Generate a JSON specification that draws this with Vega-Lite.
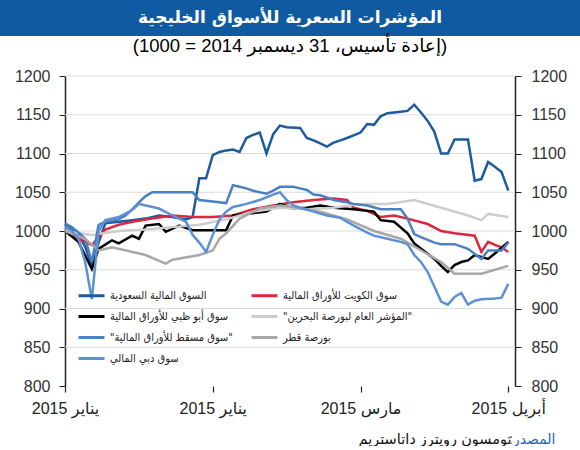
{
  "$schema": "https://vega.github.io/schema/vega-lite/v6.json",
  "padding": 0,
  "spacing": 0,
  "background": "white",
  "config": {"view": {"stroke": null}, "font": "Liberation Sans, DejaVu Sans"},
  "datasets": {
    "ts": [
      {"s":"SA","d":0,"v":1009},{"s":"SA","d":1,"v":1003},{"s":"SA","d":2,"v":995},{"s":"SA","d":3,"v":980},{"s":"SA","d":4,"v":955},{"s":"SA","d":5,"v":985},{"s":"SA","d":6,"v":1010},{"s":"SA","d":8,"v":1012},{"s":"SA","d":10,"v":1014},{"s":"SA","d":12,"v":1016},{"s":"SA","d":14,"v":1020},{"s":"SA","d":16,"v":1018},{"s":"SA","d":18,"v":1015},{"s":"SA","d":19,"v":1018},{"s":"SA","d":20,"v":1068},{"s":"SA","d":21,"v":1068},{"s":"SA","d":22,"v":1098},{"s":"SA","d":23,"v":1102},{"s":"SA","d":24,"v":1104},{"s":"SA","d":25,"v":1105},{"s":"SA","d":26,"v":1102},{"s":"SA","d":27,"v":1120},{"s":"SA","d":28,"v":1124},{"s":"SA","d":29,"v":1127},{"s":"SA","d":30,"v":1100},{"s":"SA","d":31,"v":1125},{"s":"SA","d":32,"v":1136},{"s":"SA","d":33,"v":1134},{"s":"SA","d":35,"v":1133},{"s":"SA","d":36,"v":1120},{"s":"SA","d":37,"v":1117},{"s":"SA","d":38,"v":1113},{"s":"SA","d":39,"v":1109},{"s":"SA","d":40,"v":1114},{"s":"SA","d":41,"v":1117},{"s":"SA","d":42,"v":1120},{"s":"SA","d":44,"v":1127},{"s":"SA","d":45,"v":1138},{"s":"SA","d":46,"v":1137},{"s":"SA","d":47,"v":1148},{"s":"SA","d":48,"v":1152},{"s":"SA","d":50,"v":1154},{"s":"SA","d":51,"v":1155},{"s":"SA","d":52,"v":1163},{"s":"SA","d":53,"v":1153},{"s":"SA","d":54,"v":1142},{"s":"SA","d":55,"v":1128},{"s":"SA","d":56,"v":1100},{"s":"SA","d":57,"v":1100},{"s":"SA","d":58,"v":1118},{"s":"SA","d":60,"v":1118},{"s":"SA","d":61,"v":1065},{"s":"SA","d":62,"v":1067},{"s":"SA","d":63,"v":1089},{"s":"SA","d":64,"v":1083},{"s":"SA","d":65,"v":1076},{"s":"SA","d":66,"v":1052},
      {"s":"KW","d":0,"v":1000},{"s":"KW","d":2,"v":990},{"s":"KW","d":4,"v":982},{"s":"KW","d":6,"v":1002},{"s":"KW","d":8,"v":1008},{"s":"KW","d":10,"v":1012},{"s":"KW","d":13,"v":1016},{"s":"KW","d":16,"v":1020},{"s":"KW","d":19,"v":1018},{"s":"KW","d":22,"v":1018},{"s":"KW","d":25,"v":1020},{"s":"KW","d":28,"v":1028},{"s":"KW","d":31,"v":1033},{"s":"KW","d":34,"v":1037},{"s":"KW","d":37,"v":1040},{"s":"KW","d":40,"v":1042},{"s":"KW","d":42,"v":1040},{"s":"KW","d":43,"v":1030},{"s":"KW","d":45,"v":1026},{"s":"KW","d":47,"v":1018},{"s":"KW","d":49,"v":1020},{"s":"KW","d":51,"v":1016},{"s":"KW","d":54,"v":1009},{"s":"KW","d":56,"v":1000},{"s":"KW","d":58,"v":997},{"s":"KW","d":61,"v":994},{"s":"KW","d":62,"v":973},{"s":"KW","d":63,"v":986},{"s":"KW","d":64,"v":982},{"s":"KW","d":65,"v":979},{"s":"KW","d":66,"v":973},
      {"s":"AD","d":0,"v":1000},{"s":"AD","d":2,"v":986},{"s":"AD","d":4,"v":951},{"s":"AD","d":5,"v":977},{"s":"AD","d":7,"v":988},{"s":"AD","d":8,"v":984},{"s":"AD","d":10,"v":994},{"s":"AD","d":11,"v":990},{"s":"AD","d":12,"v":1007},{"s":"AD","d":14,"v":1009},{"s":"AD","d":15,"v":999},{"s":"AD","d":17,"v":1007},{"s":"AD","d":19,"v":1001},{"s":"AD","d":24,"v":1001},{"s":"AD","d":25,"v":1020},{"s":"AD","d":27,"v":1022},{"s":"AD","d":30,"v":1025},{"s":"AD","d":32,"v":1035},{"s":"AD","d":34,"v":1029},{"s":"AD","d":36,"v":1030},{"s":"AD","d":38,"v":1033},{"s":"AD","d":40,"v":1030},{"s":"AD","d":43,"v":1028},{"s":"AD","d":46,"v":1025},{"s":"AD","d":47,"v":1014},{"s":"AD","d":49,"v":1012},{"s":"AD","d":51,"v":997},{"s":"AD","d":52,"v":984},{"s":"AD","d":55,"v":964},{"s":"AD","d":56,"v":955},{"s":"AD","d":57,"v":947},{"s":"AD","d":58,"v":956},{"s":"AD","d":59,"v":960},{"s":"AD","d":60,"v":962},{"s":"AD","d":61,"v":969},{"s":"AD","d":63,"v":964},{"s":"AD","d":64,"v":971},{"s":"AD","d":66,"v":986},
      {"s":"BH","d":0,"v":1000},{"s":"BH","d":4,"v":995},{"s":"BH","d":8,"v":1000},{"s":"BH","d":12,"v":1002},{"s":"BH","d":16,"v":1005},{"s":"BH","d":20,"v":1008},{"s":"BH","d":24,"v":1015},{"s":"BH","d":28,"v":1025},{"s":"BH","d":32,"v":1030},{"s":"BH","d":36,"v":1028},{"s":"BH","d":40,"v":1030},{"s":"BH","d":44,"v":1035},{"s":"BH","d":48,"v":1035},{"s":"BH","d":52,"v":1040},{"s":"BH","d":56,"v":1030},{"s":"BH","d":60,"v":1020},{"s":"BH","d":62,"v":1014},{"s":"BH","d":63,"v":1022},{"s":"BH","d":66,"v":1018},
      {"s":"MS","d":0,"v":1010},{"s":"MS","d":1,"v":1005},{"s":"MS","d":2,"v":998},{"s":"MS","d":3,"v":990},{"s":"MS","d":4,"v":960},{"s":"MS","d":5,"v":1008},{"s":"MS","d":6,"v":1012},{"s":"MS","d":8,"v":1015},{"s":"MS","d":9,"v":1020},{"s":"MS","d":10,"v":1028},{"s":"MS","d":11,"v":1037},{"s":"MS","d":12,"v":1045},{"s":"MS","d":13,"v":1050},{"s":"MS","d":15,"v":1050},{"s":"MS","d":17,"v":1050},{"s":"MS","d":19,"v":1050},{"s":"MS","d":20,"v":1040},{"s":"MS","d":22,"v":1038},{"s":"MS","d":24,"v":1036},{"s":"MS","d":25,"v":1059},{"s":"MS","d":26,"v":1057},{"s":"MS","d":27,"v":1055},{"s":"MS","d":28,"v":1052},{"s":"MS","d":30,"v":1048},{"s":"MS","d":31,"v":1052},{"s":"MS","d":32,"v":1057},{"s":"MS","d":34,"v":1057},{"s":"MS","d":35,"v":1055},{"s":"MS","d":36,"v":1053},{"s":"MS","d":37,"v":1047},{"s":"MS","d":38,"v":1046},{"s":"MS","d":40,"v":1040},{"s":"MS","d":42,"v":1037},{"s":"MS","d":43,"v":1035},{"s":"MS","d":45,"v":1033},{"s":"MS","d":47,"v":1028},{"s":"MS","d":50,"v":1028},{"s":"MS","d":51,"v":1016},{"s":"MS","d":52,"v":996},{"s":"MS","d":53,"v":992},{"s":"MS","d":55,"v":985},{"s":"MS","d":56,"v":983},{"s":"MS","d":58,"v":983},{"s":"MS","d":60,"v":977},{"s":"MS","d":62,"v":964},{"s":"MS","d":63,"v":975},{"s":"MS","d":65,"v":975},{"s":"MS","d":66,"v":985},
      {"s":"QA","d":0,"v":1000},{"s":"QA","d":3,"v":990},{"s":"QA","d":5,"v":975},{"s":"QA","d":7,"v":979},{"s":"QA","d":12,"v":969},{"s":"QA","d":15,"v":958},{"s":"QA","d":16,"v":963},{"s":"QA","d":20,"v":969},{"s":"QA","d":22,"v":975},{"s":"QA","d":23,"v":990},{"s":"QA","d":24,"v":997},{"s":"QA","d":26,"v":1016},{"s":"QA","d":29,"v":1029},{"s":"QA","d":32,"v":1033},{"s":"QA","d":34,"v":1031},{"s":"QA","d":38,"v":1025},{"s":"QA","d":42,"v":1015},{"s":"QA","d":46,"v":1000},{"s":"QA","d":50,"v":990},{"s":"QA","d":54,"v":970},{"s":"QA","d":56,"v":960},{"s":"QA","d":58,"v":945},{"s":"QA","d":60,"v":945},{"s":"QA","d":62,"v":945},{"s":"QA","d":64,"v":950},{"s":"QA","d":66,"v":955},
      {"s":"DB","d":0,"v":1005},{"s":"DB","d":1,"v":1000},{"s":"DB","d":2,"v":990},{"s":"DB","d":3,"v":960},{"s":"DB","d":4,"v":912},{"s":"DB","d":5,"v":1000},{"s":"DB","d":6,"v":1014},{"s":"DB","d":8,"v":1018},{"s":"DB","d":10,"v":1027},{"s":"DB","d":11,"v":1035},{"s":"DB","d":12,"v":1033},{"s":"DB","d":14,"v":1029},{"s":"DB","d":16,"v":1020},{"s":"DB","d":18,"v":1012},{"s":"DB","d":19,"v":995},{"s":"DB","d":20,"v":985},{"s":"DB","d":21,"v":973},{"s":"DB","d":22,"v":995},{"s":"DB","d":23,"v":1015},{"s":"DB","d":24,"v":1025},{"s":"DB","d":25,"v":1031},{"s":"DB","d":26,"v":1033},{"s":"DB","d":27,"v":1035},{"s":"DB","d":29,"v":1040},{"s":"DB","d":31,"v":1047},{"s":"DB","d":32,"v":1050},{"s":"DB","d":33,"v":1040},{"s":"DB","d":34,"v":1033},{"s":"DB","d":35,"v":1030},{"s":"DB","d":37,"v":1025},{"s":"DB","d":39,"v":1020},{"s":"DB","d":41,"v":1017},{"s":"DB","d":43,"v":1007},{"s":"DB","d":45,"v":998},{"s":"DB","d":46,"v":994},{"s":"DB","d":48,"v":990},{"s":"DB","d":50,"v":986},{"s":"DB","d":51,"v":983},{"s":"DB","d":52,"v":969},{"s":"DB","d":53,"v":960},{"s":"DB","d":54,"v":947},{"s":"DB","d":55,"v":928},{"s":"DB","d":56,"v":909},{"s":"DB","d":57,"v":905},{"s":"DB","d":58,"v":915},{"s":"DB","d":59,"v":920},{"s":"DB","d":60,"v":905},{"s":"DB","d":61,"v":910},{"s":"DB","d":62,"v":912},{"s":"DB","d":64,"v":913},{"s":"DB","d":65,"v":914},{"s":"DB","d":66,"v":932}
    ],
    "grid": [{"g":850},{"g":900},{"g":950},{"g":1000},{"g":1050},{"g":1100},{"g":1150},{"g":1200}]
  },
  "vconcat": [
    {
      "width": 580,
      "height": 36,
      "view": {"fill": "#0f5aa0", "stroke": null},
      "data": {"values": [{"t": "المؤشرات السعرية للأسواق الخليجية"}]},
      "mark": {"type": "text", "color": "white", "fontSize": 17, "fontWeight": "bold", "font": "DejaVu Sans", "baseline": "middle"},
      "encoding": {"text": {"field": "t"}}
    },
    {
      "width": 580,
      "height": 310,
      "title": {"text": "(إعادة تأسيس، 31 ديسمبر 2014 = 1000)", "fontSize": 18.5, "fontWeight": "normal", "offset": 13, "anchor": "middle", "color": "black"},
      "resolve": {"scale": {"y": "independent"}},
      "layer": [
        {
          "data": {"name": "grid"},
          "mark": {"type": "rule", "color": "#dcdcdc", "strokeWidth": 1},
          "encoding": {
            "y": {"field": "g", "type": "quantitative", "scale": {"domain": [800, 1200], "zero": false, "nice": false}, "axis": null},
            "x": {"datum": 0, "type": "quantitative"},
            "x2": {"datum": 67}
          }
        },
        {
          "data": {"name": "ts"},
          "mark": {"type": "line", "strokeWidth": 2.5},
          "encoding": {
            "x": {"field": "d", "type": "quantitative",
              "scale": {"domain": [-9.678, 76.678], "nice": false, "zero": false},
              "axis": {"orient": "bottom", "values": [0, 22, 44, 66], "domain": false, "grid": false, "tickSize": 6, "tickColor": "#222", "tickWidth": 1.2,
                "labelExpr": "datum.value == 0 ? '2015 يناير' : datum.value == 22 ? '2015 يناير' : datum.value == 44 ? '2015 مارس' : '2015 أبريل'",
                "labelFontSize": 16, "labelColor": "#222", "labelPadding": 8,
                "title": "تومسون رويترز داتاستريم", "titleFontSize": 14.5, "titleFontWeight": "normal", "titleColor": "#111", "titleAnchor": "end", "titleAlign": "right", "titleBaseline": "alphabetic", "titleX": 511, "titleY": 57}},
            "y": {"field": "v", "type": "quantitative", "scale": {"domain": [800, 1200], "zero": false, "nice": false},
              "axis": {"orient": "left", "offset": -65, "values": [800, 850, 900, 950, 1000, 1050, 1100, 1150, 1200], "format": "d", "grid": false, "domainColor": "#222", "domainWidth": 1.5, "tickColor": "#222", "tickSize": 6, "labelFontSize": 16, "labelColor": "#333", "labelPadding": 9, "title": null}},
            "color": {"field": "s", "type": "nominal",
              "scale": {"domain": ["SA", "KW", "AD", "BH", "MS", "QA", "DB"], "range": ["#1d5b9e", "#e0263e", "#000000", "#cdcdcd", "#4a80c4", "#a8a8a8", "#5d91d6"]},
              "legend": {"orient": "none", "legendX": 77, "legendY": 281, "direction": "horizontal", "columns": 2, "symbolType": "stroke", "symbolSize": 676, "symbolStrokeWidth": 3, "labelFont": "DejaVu Sans Condensed, DejaVu Sans", "labelFontSize": 11, "labelColor": "#222", "labelOffset": 4, "columnPadding": 12, "rowPadding": -4, "padding": 0, "title": null,
                "labelExpr": "({'SA': 'السوق المالية السعودية', 'KW': 'سوق الكويت للأوراق المالية', 'AD': 'سوق أبو ظبي للأوراق المالية', 'BH': '\"المؤشر العام لبورصة البحرين\"', 'MS': '\"سوق مسقط للأوراق المالية\"', 'QA': 'بورصة قطر', 'DB': 'سوق دبي المالي'})[datum.label]"}}
          }
        },
        {
          "mark": {"type": "rule", "color": "#222", "strokeWidth": 1.5},
          "encoding": {
            "x": {"datum": 0, "type": "quantitative"},
            "x2": {"datum": 67},
            "y": {"datum": 800, "type": "quantitative", "scale": {"domain": [800, 1200], "zero": false, "nice": false},
              "axis": {"orient": "right", "offset": -65, "values": [800, 850, 900, 950, 1000, 1050, 1100, 1150, 1200], "format": "d", "grid": false, "domainColor": "#222", "domainWidth": 1.5, "tickColor": "#222", "tickSize": 6, "labelFontSize": 16, "labelColor": "#333", "labelPadding": 10,
                "title": ":المصدر", "titleAngle": 0, "titleColor": "#1f5fb0", "titleFontSize": 14, "titleFontWeight": "normal", "titleAlign": "right", "titleBaseline": "alphabetic", "titleX": 40, "titleY": 367}}
          }
        }
      ]
    }
  ]
}
